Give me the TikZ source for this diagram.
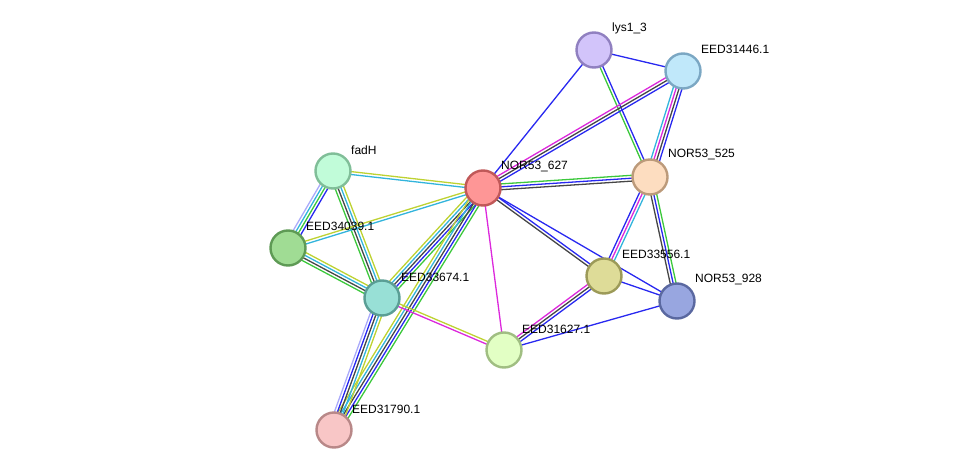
\documentclass[tikz,border=0pt]{standalone}
\usepackage{fontspec}
\setmainfont{Liberation Sans}
\usetikzlibrary{calc,backgrounds}

% evidence channel colours
\definecolor{lnkgreen}{RGB}{60,200,60}
\definecolor{lnkblue}{RGB}{40,40,240}
\definecolor{lnkgray}{RGB}{70,70,70}
\definecolor{lnkcyan}{RGB}{50,180,220}
\definecolor{lnkmag}{RGB}{220,40,220}
\definecolor{lnkyel}{RGB}{190,210,50}
\definecolor{lnklav}{RGB}{170,170,250}

% protein colours
\definecolor{lysfill}{RGB}{210,196,250}   \definecolor{lysline}{RGB}{144,128,192}
\definecolor{eaafill}{RGB}{192,232,250}   \definecolor{eaaline}{RGB}{123,167,195}
\definecolor{nsfill}{RGB}{254,150,150}    \definecolor{nsline}{RGB}{192,88,88}
\definecolor{nffill}{RGB}{253,221,192}    \definecolor{nfline}{RGB}{188,154,122}
\definecolor{fadfill}{RGB}{193,252,217}   \definecolor{fadline}{RGB}{128,190,152}
\definecolor{ebbfill}{RGB}{160,220,148}   \definecolor{ebbline}{RGB}{94,154,85}
\definecolor{eccfill}{RGB}{152,224,214}   \definecolor{eccline}{RGB}{90,158,149}
\definecolor{eddfill}{RGB}{222,220,152}   \definecolor{eddline}{RGB}{156,154,88}
\definecolor{nnfill}{RGB}{152,166,224}    \definecolor{nnline}{RGB}{90,104,160}
\definecolor{eeefill}{RGB}{226,255,196}   \definecolor{eeeline}{RGB}{160,190,130}
\definecolor{efffill}{RGB}{248,198,198}   \definecolor{effline}{RGB}{184,136,136}

% bundle of parallel lines between two proteins
\newcommand{\linkset}[3]{%
  \foreach \c [count=\n] in {#3} {\xdef\linkcount{\n}}%
  \foreach \c [count=\i] in {#3} {%
    \pgfmathsetmacro{\off}{(\i-(\linkcount+1)/2)*2.9}%
    \draw[link, draw=\c] ($(#1)!\off pt!90:(#2)$) -- ($(#2)!\off pt!-90:(#1)$);
  }%
}

\begin{document}
\begin{tikzpicture}[
    x=1pt, y=-1pt,
    font=\fontsize{12}{14}\selectfont,
    protein/.style={
        circle,
        draw,
        line width=2.4pt,
        minimum size=35pt,
        inner sep=0pt
    },
    tag/.style={
        anchor=west,
        inner sep=0pt
    },
    link/.style={
        line width=1.3pt
    }
]

\useasboundingbox (0,0) rectangle (975,476);

% ------------------------------------------------------------------
% Proteins
% ------------------------------------------------------------------

\node[protein, fill=lysfill, draw=lysline] (lys) at (594,50) {};
\node[protein, fill=eaafill, draw=eaaline] (eed31446) at (683,71) {};
\node[protein, fill=nsfill, draw=nsline] (nor627) at (483,188) {};
\node[protein, fill=nffill, draw=nfline] (nor525) at (650,177) {};
\node[protein, fill=fadfill, draw=fadline] (fadh) at (333,171) {};
\node[protein, fill=ebbfill, draw=ebbline] (eed34039) at (288,248) {};
\node[protein, fill=eccfill, draw=eccline] (eed33674) at (382,298) {};
\node[protein, fill=eddfill, draw=eddline] (eed33556) at (604,276) {};
\node[protein, fill=nnfill, draw=nnline] (nor928) at (677,301) {};
\node[protein, fill=eeefill, draw=eeeline] (eed31627) at (504,350) {};
\node[protein, fill=efffill, draw=effline] (eed31790) at (334,430) {};

\node[tag] at ($(lys)+(18,-22)$) {lys1\_3};
\node[tag] at ($(eed31446)+(18,-22)$) {EED31446.1};
\node[tag] at ($(nor627)+(18,-21)$) {NOR53\_627};
\node[tag] at ($(nor525)+(18,-22)$) {NOR53\_525};
\node[tag] at ($(fadh)+(18,-21)$) {fadH};
\node[tag] at ($(eed34039)+(18,-22)$) {EED34039.1};
\node[tag] at ($(eed33674)+(19,-21)$) {EED33674.1};
\node[tag] at ($(eed33556)+(18,-22)$) {EED33556.1};
\node[tag] at ($(nor928)+(18,-21)$) {NOR53\_928};
\node[tag] at ($(eed31627)+(18,-21)$) {EED31627.1};
\node[tag] at ($(eed31790)+(18,-21)$) {EED31790.1};

% ------------------------------------------------------------------
% Associations
% ------------------------------------------------------------------

\begin{scope}[on background layer]
\linkset{lys}{eed31446}{lnkblue}
\linkset{lys}{nor627}{lnkblue}
\linkset{lys}{nor525}{lnkgreen,lnkblue}
\linkset{eed31446}{nor627}{lnkmag,lnkgray,lnkblue}
\linkset{eed31446}{nor525}{lnkcyan,lnkmag,lnkgray,lnkblue}
\linkset{nor627}{nor525}{lnkgray,lnkblue,lnkgreen}
\linkset{nor627}{eed33556}{lnkgray,lnkblue}
\linkset{nor627}{nor928}{lnkblue}
\linkset{nor627}{eed31627}{lnkmag}
\linkset{nor525}{eed33556}{lnkblue,lnkmag,lnkcyan}
\linkset{nor525}{nor928}{lnkgray,lnkblue,lnkgreen}
\linkset{eed33556}{nor928}{lnkblue}
\linkset{eed33556}{eed31627}{lnkmag,lnkgray,lnkblue}
\linkset{nor928}{eed31627}{lnkblue}
\linkset{fadh}{nor627}{lnkcyan,lnkyel}
\linkset{fadh}{eed34039}{lnklav,lnkcyan,lnkgreen,lnkblue}
\linkset{fadh}{eed33674}{lnkgreen,lnkgray,lnkcyan,lnkyel}
\linkset{eed34039}{nor627}{lnkcyan,lnkyel}
\linkset{eed34039}{eed33674}{lnkgreen,lnkgray,lnkcyan,lnkyel}
\linkset{eed33674}{nor627}{lnkgreen,lnkblue,lnkgray,lnkcyan,lnkyel}
\linkset{eed31790}{nor627}{lnkgreen,lnkblue,lnkgray,lnkcyan,lnkyel}
\linkset{eed31790}{eed33674}{lnkyel,lnkcyan,lnkgray,lnkblue,lnklav}
\linkset{eed33674}{eed31627}{lnkmag,lnkyel}
\end{scope}

\end{tikzpicture}
\end{document}
